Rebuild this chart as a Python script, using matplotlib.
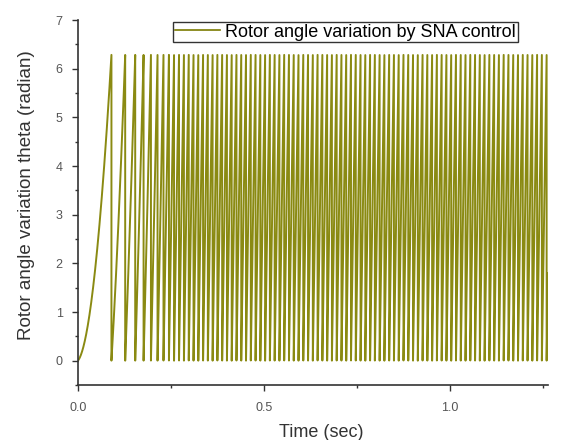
import numpy as np
import matplotlib
matplotlib.use("Agg")
import matplotlib.pyplot as plt
from matplotlib.ticker import MultipleLocator

speed_t = [0.0, 0.03, 0.06, 0.09, 0.11, 0.14, 0.165, 0.185, 0.205, 0.225, 0.25, 0.30, 1.30]
speed_w = [10, 50, 90, 130, 175, 233, 280, 315, 354, 400, 460, 490, 490]

x_ticks = [0.0, 0.5, 1.0]
x_tick_labels = ["0.0", "0.5", "1.0"]
y_ticks = [0, 1, 2, 3, 4, 5, 6, 7]

legend_label = "Rotor angle variation by SNA control"

# Rotor angle = integral of speed, wrapped to [0, 2*pi)
t = np.arange(0, 1.27, 1e-5)
w = np.interp(t, speed_t, speed_w)
angle = np.concatenate([[0], np.cumsum((w[1:] + w[:-1]) / 2 * np.diff(t))])
theta = np.mod(angle, 2 * np.pi)

plt.rcParams['font.family'] = ['Liberation Sans', 'DejaVu Sans']

fig = plt.figure(figsize=(5.65, 4.4), dpi=100)
ax = fig.add_axes([78/565, 1-385/440, 470/565, 365/440])

ax.plot(t, theta, color='#8a8a12', linewidth=1.4, label=legend_label)

ax.set_xlim(0, 1.263)
ax.set_ylim(-0.5, 7)
ax.set_xticks(x_ticks)
ax.set_xticklabels(x_tick_labels)
ax.set_yticks(y_ticks)
ax.xaxis.set_minor_locator(MultipleLocator(0.25))
ax.yaxis.set_minor_locator(MultipleLocator(0.5))

for s in ['top', 'right']:
    ax.spines[s].set_visible(False)
for s in ['left', 'bottom']:
    ax.spines[s].set_color('#333333')
    ax.spines[s].set_linewidth(1.2)

ax.tick_params(which='major', direction='out', length=4, width=1, colors='#333333',
               labelcolor='#555555', labelsize=9)
ax.tick_params(axis='x', which='major', pad=8)
ax.tick_params(axis='y', which='major', pad=7)
ax.tick_params(which='minor', direction='out', length=2.5, width=1, colors='#333333')

ax.set_xlabel("Time (sec)", fontsize=13, color='#333333')
ax.set_ylabel("Rotor angle variation theta (radian)", fontsize=13.5, color='#333333')
ax.xaxis.set_label_coords(0.517, -0.129)
ax.xaxis.label.set_va('center')
ax.yaxis.set_label_coords(-0.109, 0.52)
ax.yaxis.label.set_va('center')

leg = ax.legend(loc='upper right', bbox_to_anchor=(0.936, 0.995), fontsize=13,
                frameon=True, fancybox=False, borderpad=0.1, handlelength=2.5,
                handletextpad=0.3, borderaxespad=0)
leg.get_frame().set_edgecolor('#333333')
leg.get_frame().set_linewidth(1.0)
leg.get_frame().set_alpha(1)
for l in leg.get_lines():
    l.set_linewidth(1.2)
    l.set_color('#7a7a00')

fig.savefig("out.png", dpi=100)
